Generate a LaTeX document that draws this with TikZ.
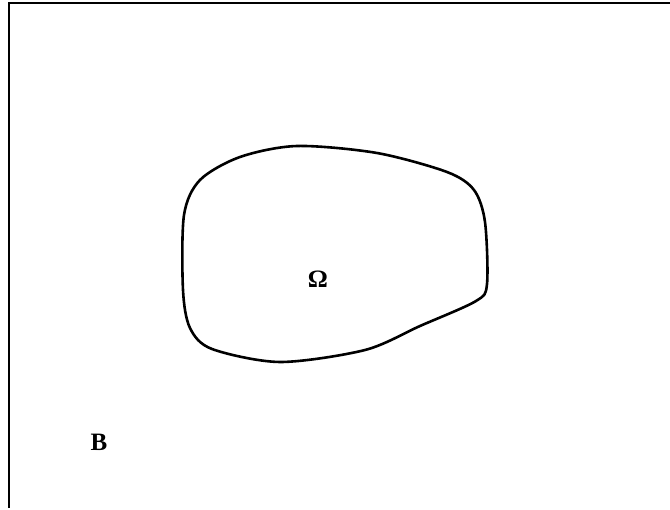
\documentclass[tikz,border=0pt]{standalone}
\usepackage{fontspec}
\setmainfont{Liberation Serif}
\usetikzlibrary{positioning}

\begin{document}
\begin{tikzpicture}[
      x=1pt, y=-1pt,
      every node/.style={font=\fontsize{25}{28}\selectfont\bfseries},
      frameline/.style={line width=1.6pt},
      domainline/.style={line width=2.6pt, line join=round},
    ]
    \useasboundingbox (0,0) rectangle (670,510);

    % frame: top and left edges only
    \draw[frameline] (670,3) -- (9,3) -- (9,508);

    % the domain
    \draw[domainline] plot[smooth cycle, tension=0.5] coordinates {
      (297,146) (377,153) (447,172) (474,190) (485,222) (487,284)
      (476,301) (420,326) (365,350) (280,362) (212,349) (190,328)
      (183,290) (184,215) (200,180) (240,157)};

    \node (omega) at (318,279) {Ω};
    \node (bset) at (99,442) {B};
  \end{tikzpicture}
\end{document}
